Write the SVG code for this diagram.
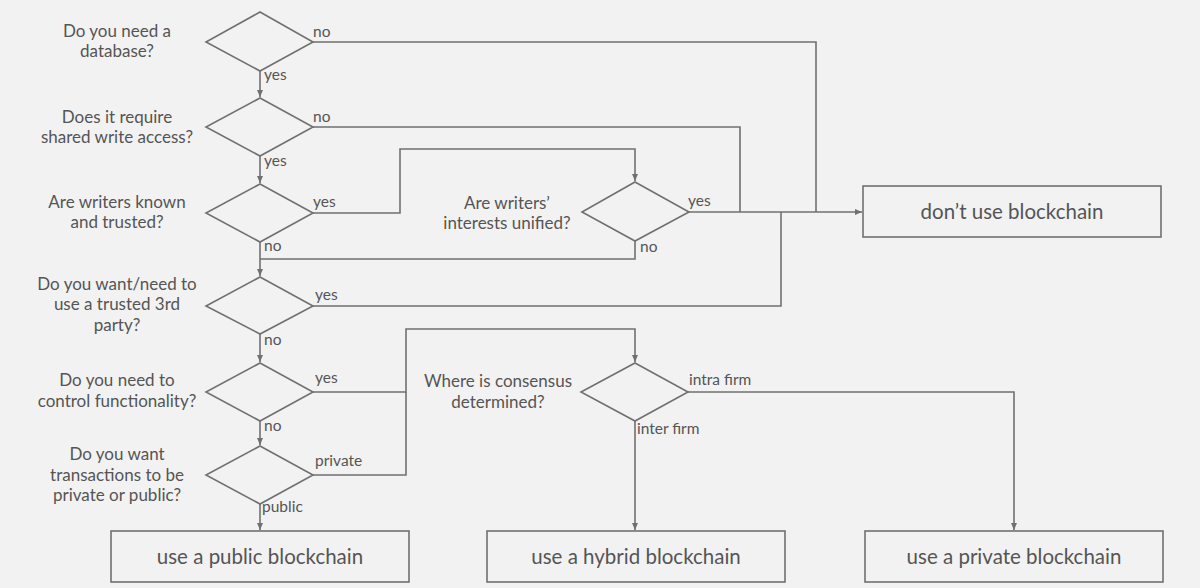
<svg xmlns="http://www.w3.org/2000/svg" width="1200" height="588" viewBox="0 0 1200 588">
<style>
.bg{fill:#f2f2f2}
.d{fill:#f2f2f2;stroke:#707070;stroke-width:1.6}
.b{fill:#f2f2f2;stroke:#707070;stroke-width:1.6}
.c{fill:none;stroke:#707070;stroke-width:1.6}
.q{font-family:Lato,"Liberation Sans",sans-serif;font-size:17px;fill:#555;text-anchor:middle}
.l{font-family:Lato,"Liberation Sans",sans-serif;font-size:15.5px;fill:#555}
.t{font-family:Lato,"Liberation Sans",sans-serif;font-size:20.5px;fill:#555;text-anchor:middle}
</style>
<defs>
<marker id="ah" markerWidth="8" markerHeight="8" refX="7" refY="4" orient="auto" markerUnits="userSpaceOnUse">
<path d="M0,1 L7,4 L0,7 Z" fill="#707070"/>
</marker>
</defs>
<rect class="bg" x="0" y="0" width="1200" height="588"/>
<g id="connectors">
<path class="c" d="M260,71 V97" marker-end="url(#ah)"/>
<path class="c" d="M313,42 H816 V212"/>
<path class="c" d="M260,156 V183" marker-end="url(#ah)"/>
<path class="c" d="M313,127 H740 V212"/>
<path class="c" d="M313,213 H400 V149 H635 V181" marker-end="url(#ah)"/>
<path class="c" d="M260,242 V276" marker-end="url(#ah)"/>
<path class="c" d="M635,241 V259 H260"/>
<path class="c" d="M689,212 H862" marker-end="url(#ah)"/>
<path class="c" d="M313,306 H781 V212"/>
<path class="c" d="M260,334 V362" marker-end="url(#ah)"/>
<path class="c" d="M313,392 H406 V329 H635 V362" marker-end="url(#ah)"/>
<path class="c" d="M260,421 V445" marker-end="url(#ah)"/>
<path class="c" d="M313,475 H406 V392"/>
<path class="c" d="M260,504 V530" marker-end="url(#ah)"/>
<path class="c" d="M688,392 H1014 V530" marker-end="url(#ah)"/>
<path class="c" d="M635,421 V530" marker-end="url(#ah)"/>
<text class="l" x="313" y="37">no</text>
<text class="l" x="264" y="80">yes</text>
<text class="l" x="313" y="122">no</text>
<text class="l" x="264" y="166">yes</text>
<text class="l" x="313" y="207">yes</text>
<text class="l" x="264" y="251">no</text>
<text class="l" x="315" y="300">yes</text>
<text class="l" x="264" y="345">no</text>
<text class="l" x="315" y="383">yes</text>
<text class="l" x="264" y="431">no</text>
<text class="l" x="315" y="466">private</text>
<text class="l" x="262" y="512">public</text>
<text class="l" x="688" y="206">yes</text>
<text class="l" x="640" y="252">no</text>
<text class="l" x="689" y="385">intra firm</text>
<text class="l" x="637" y="434">inter firm</text>
</g>
<g id="q1">
<polygon class="d" points="260,12 313,42 260,71 206,42"/>
<text class="q" x="117" y="37">Do you need a</text>
<text class="q" x="117" y="57">database?</text>
</g>
<g id="q2">
<polygon class="d" points="260,98 313,127 260,156 206,127"/>
<text class="q" x="117" y="123">Does it require</text>
<text class="q" x="117" y="143">shared write access?</text>
</g>
<g id="q3">
<polygon class="d" points="260,184 313,213 260,242 206,213"/>
<text class="q" x="117" y="208">Are writers known</text>
<text class="q" x="117" y="228">and trusted?</text>
</g>
<g id="q4">
<polygon class="d" points="260,277 313,306 260,334 206,306"/>
<text class="q" x="117" y="290">Do you want/need to</text>
<text class="q" x="117" y="310">use a trusted 3rd</text>
<text class="q" x="117" y="331">party?</text>
</g>
<g id="q5">
<polygon class="d" points="260,363 313,392 260,421 206,392"/>
<text class="q" x="117" y="386">Do you need to</text>
<text class="q" x="117" y="407">control functionality?</text>
</g>
<g id="q6">
<polygon class="d" points="260,446 313,475 260,504 206,475"/>
<text class="q" x="117" y="460">Do you want</text>
<text class="q" x="117" y="481">transactions to be</text>
<text class="q" x="117" y="501">private or public?</text>
</g>
<g id="q7">
<polygon class="d" points="635,182 689,212 635,241 582,212"/>
<text class="q" x="507" y="209">Are writers’</text>
<text class="q" x="507" y="229">interests unified?</text>
</g>
<g id="q8">
<polygon class="d" points="635,363 688,392 635,421 581,392"/>
<text class="q" x="498" y="387">Where is consensus</text>
<text class="q" x="498" y="408">determined?</text>
</g>
<g id="dont">
<rect class="b" x="863" y="186" width="298" height="51"/>
<text class="t" x="1012" y="219">don’t use blockchain</text>
</g>
<g id="public">
<rect class="b" x="111" y="531" width="298" height="51"/>
<text class="t" x="260" y="564">use a public blockchain</text>
</g>
<g id="hybrid">
<rect class="b" x="487" y="531" width="298" height="51"/>
<text class="t" x="636" y="564">use a hybrid blockchain</text>
</g>
<g id="private">
<rect class="b" x="865" y="531" width="298" height="51"/>
<text class="t" x="1014" y="564">use a private blockchain</text>
</g>
</svg>
